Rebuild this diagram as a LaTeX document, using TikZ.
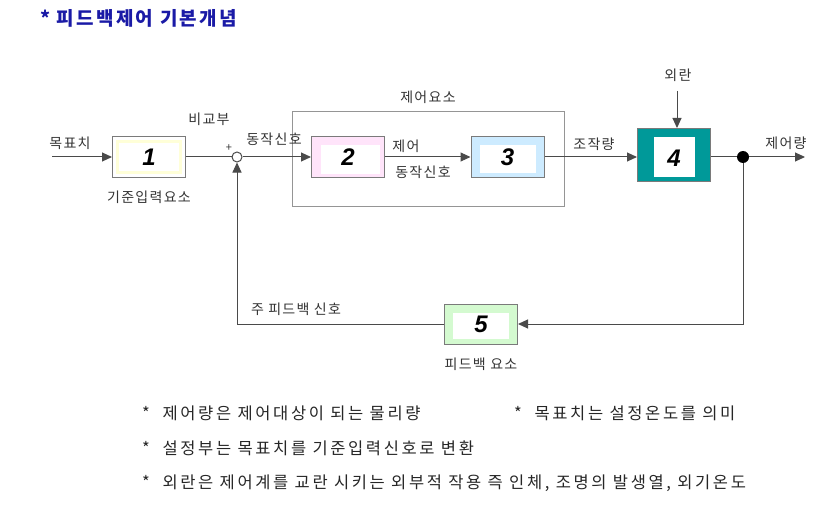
\documentclass[tikz,border=0pt]{standalone}
\usepackage{fontspec}
\setmainfont{Noto Sans CJK KR}
\newfontfamily\numfont{Liberation Sans}
\usetikzlibrary{arrows.meta,calc}
\definecolor{linegray}{HTML}{4A4A4A}
\definecolor{boxgray}{HTML}{7A7A7A}
\definecolor{labelcol}{HTML}{333333}
\definecolor{titleblue}{HTML}{1A1AA6}
\definecolor{bandyellow}{HTML}{FFFFD8}
\definecolor{bandpink}{HTML}{FFE4FA}
\definecolor{bandblue}{HTML}{CDEBFF}
\definecolor{bandgreen}{HTML}{D4FAD0}
\definecolor{tealfill}{HTML}{009999}
\begin{document}
\begin{tikzpicture}[x=1pt,y=-1pt,
  conn/.style={draw=linegray, line width=1pt},
  arr/.style={conn, -{Triangle[length=10pt,width=9pt]}},
  blk/.style={draw=boxgray, line width=1pt, minimum width=73pt, minimum height=40pt, inner sep=0pt},
  lbl/.style={text=labelcol, inner sep=0pt, font=\fontsize{14}{16}\selectfont\addfontfeature{LetterSpace=9}},
  note/.style={text=black!85, inner sep=0pt, anchor=west, font=\fontsize{16.5}{18}\selectfont\addfontfeature{LetterSpace=16}},
  num/.style={inner sep=0pt, font=\numfont\bfseries\itshape\fontsize{24}{24}\selectfont}
]
\useasboundingbox (0,0) rectangle (838,524);

% title
\node[anchor=west, inner sep=0pt, text=titleblue, font=\fontsize{19}{21}\selectfont\bfseries\addfontfeature{LetterSpace=12}] (title) at (40,18) {*\ 피드백제어 기본개념};

% control element frame
\node[draw=boxgray!80, line width=0.8pt, minimum width=272pt, minimum height=95pt, inner sep=0pt] (ce) at (428,158.5) {};
\node[lbl] (celbl) at (428,97) {제어요소};

% blocks
\node[blk, fill=white] (b1) at (149,157) {};
\draw[bandyellow, line width=3pt] ($(b1.north west)+(5,5)$) rectangle ($(b1.south east)+(-6,-5)$);
\node[num] (n1) at (b1.center) {1};

\node[blk, fill=bandpink] (b2) at (348,157) {};
\fill[white] ($(b2.north west)+(10,9)$) rectangle ($(b2.south east)+(-5,-4)$);
\node[num] (n2) at (b2.center) {2};

\node[blk, fill=bandblue] (b3) at (507.5,157) {};
\fill[white] ($(b3.north west)+(9,9)$) rectangle ($(b3.south east)+(-9,-5)$);
\node[num] (n3) at (b3.center) {3};

\node[blk, fill=tealfill, minimum height=53pt] (b4) at (674,155) {};
\fill[white] (654,137) rectangle (695,177);
\node[num] (n4) at (674,158) {4};

\node[blk, fill=bandgreen] (b5) at (481,324) {};
\fill[white] ($(b5.north west)+(9,9)$) rectangle ($(b5.south east)+(-9,-6)$);
\node[num] (n5) at (b5.center) {5};

% summing junction and branch dot
\node[circle, draw=linegray, line width=1pt, fill=white, minimum size=10pt, inner sep=0pt] (sum) at (237,157) {};
\node[circle, fill=black, minimum size=12pt, inner sep=0pt] (dot) at (743,157) {};

\coordinate (inbeg) at (52,157);
\coordinate (outend) at (805,157);
\coordinate (dist) at (677,91);

% connectors
\draw[arr] (inbeg) -- (b1.west);
\draw[conn] (b1.east) -- (sum.west);
\draw[arr] (sum.east) -- (b2.west);
\draw[arr] (b2.east) -- (b3.west);
\draw[arr] (b3.east) -- (b3.east -| b4.west);
\draw[arr] (dist) -- (dist |- b4.north);
\draw[conn] (b4.east |- dot) -- (dot);
\draw[arr] (dot) -- (outend);
\draw[arr] (dot) |- (b5.east);
\draw[arr] (b5.west) -| (sum.south);

% labels
\node[lbl] (l1) at (70,143) {목표치};
\node[lbl] (l2) at (149,197) {기준입력요소};
\node[lbl] (l3) at (209,119) {비교부};
\node[inner sep=0pt, text=labelcol, font=\fontsize{11}{11}\selectfont] (plus) at (229,148) {+};
\node[lbl] (l4) at (274,139) {동작신호};
\node[lbl] (l5) at (406,146) {제어};
\node[lbl] (l6) at (423,172) {동작신호};
\node[lbl] (l7) at (594,144) {조작량};
\node[lbl] (l8) at (678,75) {외란};
\node[lbl] (l9) at (786,143) {제어량};
\node[lbl] (l10) at (296,309) {주 피드백 신호};
\node[lbl] (l11) at (481,364) {피드백 요소};

% notes
\node[note] (t1) at (142,413) {*\ \ 제어량은 제어대상이 되는 물리량};
\node[note] (t2) at (514,413) {*\ \ 목표치는 설정온도를 의미};
\node[note] (t3) at (142,448) {*\ \ 설정부는 목표치를 기준입력신호로 변환};
\node[note] (t4) at (142,483) {*\ \ 외란은 제어계를 교란 시키는 외부적 작용 즉 인체, 조명의 발생열, 외기온도};
\end{tikzpicture}
\end{document}
